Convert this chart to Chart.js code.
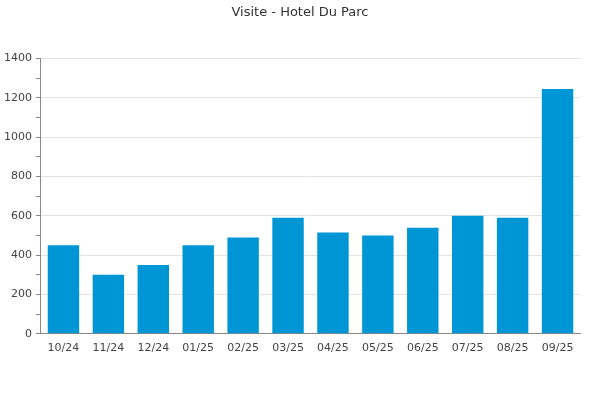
<!DOCTYPE html>
<html>
<head>
<meta charset="utf-8">
<script src="https://cdn.jsdelivr.net/npm/chart.js@4/dist/chart.umd.min.js"></script>
<style>
  html, body { margin: 0; padding: 0; background: #fff; }
  #wrap { width: 600px; height: 400px; }
</style>
</head>
<body>
<div id="wrap"><canvas id="visiteChart"></canvas></div>
<script>
// Dati del grafico
const months = ["10/24", "11/24", "12/24", "01/25", "02/25", "03/25", "04/25", "05/25", "06/25", "07/25", "08/25", "09/25"];
const visits = [450, 300, 350, 450, 490, 590, 515, 500, 540, 600, 590, 1245];
const yTicks = [0, 200, 400, 600, 800, 1000, 1200, 1400];

const TEXT = "#444";
const AXIS = "#888";
const GRID = "#e3e3e3";
const BAR = "#0096d6";

Chart.defaults.font.family = "'DejaVu Sans', sans-serif";
Chart.defaults.color = TEXT;

new Chart(document.getElementById("visiteChart"), {
  type: "bar",
  data: {
    labels: months,
    datasets: [{
      label: "Visite",
      data: visits,
      backgroundColor: BAR,
      barPercentage: 0.7,
      categoryPercentage: 1,
      yAxisID: "y"
    }]
  },
  options: {
    responsive: true,
    maintainAspectRatio: false,
    animation: false,
    layout: { padding: { top: 1, right: 0, bottom: 45, left: 0 } },
    plugins: {
      legend: { display: false },
      tooltip: { enabled: false },
      title: {
        display: true,
        text: "Visite - Hotel Du Parc",
        color: "#333",
        font: { size: 13, weight: "normal" },
        padding: { top: 4, bottom: 38 }
      }
    },
    scales: {
      x: {
        grid: { display: false },
        border: { display: true, color: AXIS },
        ticks: { font: { size: 11 }, padding: 0, maxRotation: 0 }
      },
      y: {
        min: 0,
        max: 1400,
        border: { display: true, color: AXIS },
        grid: {
          // linee solo sui valori principali, tacche anche sui secondari
          color: ctx => yTicks.includes(ctx.tick && ctx.tick.value) ? GRID : "rgba(0,0,0,0)",
          tickColor: AXIS,
          tickLength: 5
        },
        ticks: {
          stepSize: 100,
          autoSkip: false,
          font: { size: 11 },
          padding: 4,
          callback: v => yTicks.includes(v) ? v : ""
        }
      },
      // asse vuoto a destra: solo spazio, così il titolo resta centrato sulla pagina
      spacer: {
        position: "right",
        grid: { display: false },
        border: { display: false },
        ticks: { display: false },
        afterFit: scale => { scale.width = 20; }
      }
    }
  }
});
</script>
</body>
</html>
